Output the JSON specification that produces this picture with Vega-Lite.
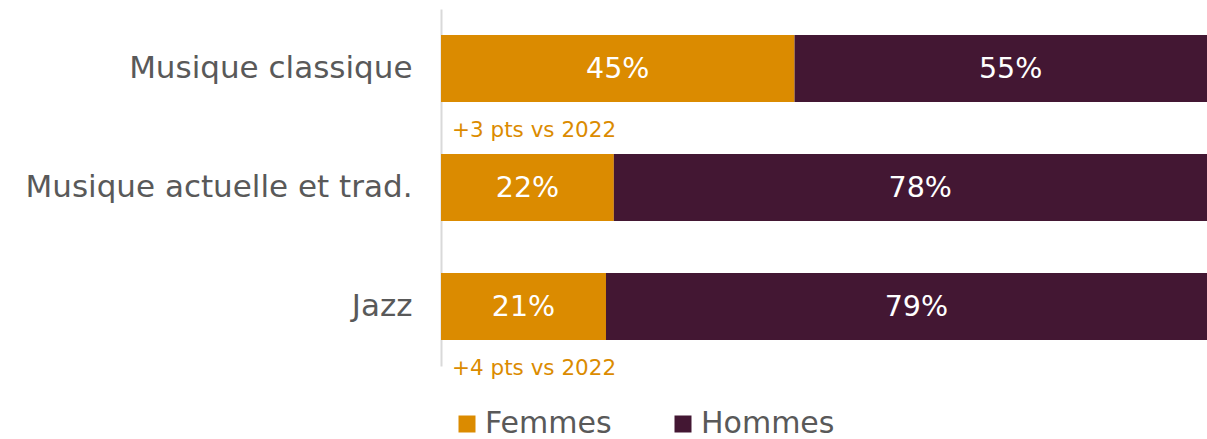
{
  "$schema": "https://vega.github.io/schema/vega-lite/v6.json",
  "autosize": {"type": "none"},
  "padding": {"left": 441, "top": 9, "right": 0, "bottom": 73},
  "width": 766,
  "height": 357,
  "config": {"view": {"stroke": null}, "font": "DejaVu Sans"},
  "datasets": {
    "parts": [
      {"categorie": "Musique classique", "sexe": "Femmes", "valeur": 45, "label": "45%"},
      {"categorie": "Musique classique", "sexe": "Hommes", "valeur": 55, "label": "55%"},
      {"categorie": "Musique actuelle et trad.", "sexe": "Femmes", "valeur": 22, "label": "22%"},
      {"categorie": "Musique actuelle et trad.", "sexe": "Hommes", "valeur": 78, "label": "78%"},
      {"categorie": "Jazz", "sexe": "Femmes", "valeur": 21, "label": "21%"},
      {"categorie": "Jazz", "sexe": "Hommes", "valeur": 79, "label": "79%"}
    ],
    "notes": [
      {"categorie": "Musique classique", "note": "+3 pts vs 2022"},
      {"categorie": "Jazz", "note": "+4 pts vs 2022"}
    ]
  },
  "layer": [
    {
      "data": {"name": "parts"},
      "transform": [
        {"stack": "valeur", "groupby": ["categorie"], "sort": [{"field": "sexe", "order": "ascending"}], "as": ["debut", "fin"]},
        {"calculate": "(datum.debut + datum.fin) / 2", "as": "milieu"}
      ],
      "layer": [
        {
          "mark": {"type": "bar", "clip": true},
          "encoding": {
            "y": {
              "field": "categorie", "type": "nominal",
              "scale": {"domain": ["Musique classique", "Musique actuelle et trad.", "Jazz"], "paddingInner": 0.437, "paddingOuter": 0.2185},
              "axis": {"title": null, "ticks": false, "domainColor": "#d9d9d9", "domainWidth": 2, "labelPadding": 29, "labelFontSize": 31, "labelColor": "#595959", "labelLimit": 500}
            },
            "x": {"field": "debut", "type": "quantitative", "scale": {"domain": [0, 97.5], "nice": false, "zero": true}, "axis": null},
            "x2": {"field": "fin"},
            "color": {
              "field": "sexe", "type": "nominal",
              "scale": {"domain": ["Femmes", "Hommes"], "range": ["#DB8B00", "#431733"]},
              "legend": {
                "orient": "none", "legendX": 11, "legendY": 400, "direction": "horizontal",
                "title": null, "symbolType": "square", "symbolSize": 289, "symbolStrokeWidth": 0,
                "symbolOpacity": 1, "labelFontSize": 30, "labelColor": "#595959", "labelOffset": 3,
                "columnPadding": 56
              }
            }
          }
        },
        {
          "mark": {"type": "text", "color": "white", "fontSize": 28.5},
          "encoding": {
            "y": {"field": "categorie", "type": "nominal"},
            "x": {"field": "milieu", "type": "quantitative"},
            "text": {"field": "label"}
          }
        }
      ]
    },
    {
      "data": {"name": "notes"},
      "mark": {"type": "text", "align": "left", "dx": 11, "dy": 62, "fontSize": 21.5, "color": "#DB8B00"},
      "encoding": {
        "y": {"field": "categorie", "type": "nominal"},
        "x": {"datum": 0, "type": "quantitative"},
        "text": {"field": "note"}
      }
    }
  ]
}
